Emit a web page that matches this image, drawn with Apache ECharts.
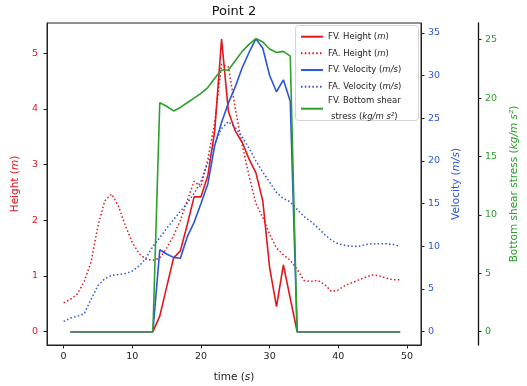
<!DOCTYPE html>
<html>
<head>
<meta charset="utf-8">
<title>Point 2</title>
<script src="https://cdn.jsdelivr.net/npm/echarts@6/dist/echarts.min.js"></script>
<style>
  html, body { margin: 0; padding: 0; background: #fff; }
  #chart { width: 527px; height: 386px; }
</style>
</head>
<body>
<div id="chart"></div>
<script>
// Time axis (s)
const timeS = [0,1,2,3,4,5,6,7,8,9,10,11,12,13,14,15,16,17,18,19,20,21,22,23,24,25,26,27,28,29,30,31,32,33,34,35,36,37,38,39,40,41,42,43,44,45,46,47,48,49];

// FV flow height (m); the FV run starts at t = 1 s
const fvHeight = [null,0,0,0,0,0,0,0,0,0,0,0,0,0,0.28,0.8,1.32,1.45,1.92,2.42,2.42,2.8,3.6,5.25,3.95,3.6,3.4,3.1,2.85,2.35,1.15,0.45,1.2,0.6,0,0,0,0,0,0,0,0,0,0,0,0,0,0,0,0];

// FA flow height (m)
const faHeight = [0.52,0.58,0.68,0.9,1.25,1.9,2.35,2.47,2.25,1.9,1.6,1.4,1.3,1.28,1.32,1.5,1.72,2.0,2.35,2.7,2.6,3.1,3.75,4.8,4.75,4.0,3.35,2.8,2.3,2.05,1.75,1.5,1.38,1.28,1.12,0.92,0.9,0.92,0.85,0.72,0.75,0.83,0.88,0.93,0.98,1.02,1.0,0.96,0.93,0.93];

// FV velocity (m/s)
const fvVelocity = [null,0,0,0,0,0,0,0,0,0,0,0,0,0,9.6,9.1,8.7,8.6,11.1,12.8,15.0,17.3,21.8,24.5,26.8,28.7,30.9,32.7,34.3,33.2,30.0,28.1,29.5,27.0,0,0,0,0,0,0,0,0,0,0,0,0,0,0,0,0];

// FA velocity (m/s)
const faVelocity = [1.2,1.6,1.8,2.1,3.8,5.4,6.2,6.6,6.7,6.8,7.1,7.7,8.6,10.0,11.0,12.1,13.1,14.1,15.05,16.2,17.6,19.8,22.0,23.8,24.6,23.9,22.8,21.5,20.0,18.7,17.5,16.3,15.6,15.2,14.3,13.5,12.9,12.2,11.4,10.7,10.3,10.1,10.0,10.0,10.2,10.3,10.3,10.3,10.2,10.0];

// FV bottom shear stress (kg/m s^2)
const fvShear = [null,0,0,0,0,0,0,0,0,0,0,0,0,0,19.6,19.3,18.9,19.2,19.6,20.0,20.4,20.9,21.7,22.4,22.4,23.2,24.0,24.6,25.1,24.8,24.2,23.9,24.0,23.6,0,0,0,0,0,0,0,0,0,0,0,0,0,0,0,0];

// Tick values
const timeTicks = [0,10,20,30,40,50];
const heightTicks = [0,1,2,3,4,5];
const velocityTicks = [0,5,10,15,20,25,30,35];
const shearTicks = [0,5,10,15,20,25];

const RED = '#e3161c';
const BLUE = '#2a56d8';
const GREEN = '#2ca02c';
const FONT = 'DejaVu Sans';

function pairs(values) {
  const out = [];
  timeS.forEach((t, i) => { if (values[i] !== null) out.push([t, values[i]]); });
  return out;
}

const names = {
  fvH: 'FV. Height',
  faH: 'FA. Height',
  fvV: 'FV. Velocity',
  faV: 'FA. Velocity',
  fvS: 'FV. Bottom shear stress'
};

const legendLabels = {};
legendLabels[names.fvH] = 'FV. Height ({i|m})';
legendLabels[names.faH] = 'FA. Height ({i|m})';
legendLabels[names.fvV] = 'FV. Velocity ({i|m/s})';
legendLabels[names.faV] = 'FA. Velocity ({i|m/s})';
legendLabels[names.fvS] = '{c|FV. Bottom shear}\n{c|stress (}{ci|kg/m s²}{c|)}';

const DOT = [1.5, 2.3];
const LEGEND_FONT = 8.5;

function valueAxis(opts) {
  return Object.assign({
    type: 'value',
    splitLine: { show: false },
    axisLine: { show: true, onZero: false, lineStyle: { color: '#222', width: 1 } },
    axisTick: { show: true, inside: false, length: 3.5, lineStyle: { color: '#222', width: 1 } },
    nameLocation: 'middle'
  }, opts);
}

const chart = echarts.init(document.getElementById('chart'), null, { renderer: 'canvas' });

chart.setOption({
  animation: false,
  backgroundColor: '#fff',
  textStyle: { fontFamily: FONT },
  title: {
    text: 'Point 2',
    left: 234,
    textAlign: 'center',
    top: 5,
    padding: 0,
    textStyle: { fontFamily: FONT, fontSize: 13, fontWeight: 'normal', color: '#111' }
  },
  grid: {
    left: 47, right: 106, top: 23, bottom: 41,
    outerBoundsMode: 'none',
    containLabel: false,
    show: true, borderColor: '#222', borderWidth: 1, backgroundColor: 'transparent'
  },
  graphic: [{
    type: 'rect',
    z: 3,
    shape: { x: 295.5, y: 25.5, width: 123, height: 95, r: 3 },
    style: { fill: 'rgba(255,255,255,0.85)', stroke: '#d4d4d4', lineWidth: 1 }
  }],
  legend: [{
    orient: 'vertical',
    left: 300, top: 31.7,
    padding: 0,
    itemGap: 6.67,
    itemWidth: 22, itemHeight: 10,
    selectedMode: false,
    itemStyle: { opacity: 0 },
    data: [names.fvH, names.faH, names.fvV, names.faV],
    formatter: n => legendLabels[n],
    textStyle: {
      fontFamily: FONT, fontSize: LEGEND_FONT, lineHeight: 10, color: '#222',
      rich: { i: { fontFamily: FONT, fontSize: LEGEND_FONT, lineHeight: 10, fontStyle: 'italic', color: '#222' } }
    }
  }, {
    orient: 'vertical',
    left: 300, top: 92.7,
    padding: 0,
    itemWidth: 22, itemHeight: 10,
    selectedMode: false,
    itemStyle: { opacity: 0 },
    data: [names.fvS],
    formatter: n => legendLabels[n],
    textStyle: {
      fontFamily: FONT, fontSize: LEGEND_FONT, lineHeight: 16, color: '#222',
      rich: {
        c: { fontFamily: FONT, fontSize: LEGEND_FONT, lineHeight: 16, color: '#222', align: 'center' },
        ci: { fontFamily: FONT, fontSize: LEGEND_FONT, lineHeight: 16, color: '#222', fontStyle: 'italic', align: 'center' }
      }
    }
  }],
  xAxis: valueAxis({
    min: -2.42, max: 52.04,
    name: 'time ({i|s})',
    nameGap: 27,
    nameTextStyle: {
      fontFamily: FONT, fontSize: 10.5, color: '#222',
      rich: { i: { fontFamily: FONT, fontSize: 10.5, fontStyle: 'italic', color: '#222' } }
    },
    axisTick: { show: true, inside: false, length: 3.5, customValues: timeTicks, lineStyle: { color: '#222', width: 1 } },
    axisLabel: { customValues: timeTicks, margin: 7, fontFamily: FONT, fontSize: 9.5, color: '#222' }
  }),
  yAxis: [
    valueAxis({
      position: 'left',
      min: -0.239, max: 5.54,
      name: 'Height ({i|m})',
      nameRotate: 90,
      nameGap: 22,
      nameTextStyle: {
        fontFamily: FONT, fontSize: 10.5, color: RED,
        rich: { i: { fontFamily: FONT, fontSize: 10.5, fontStyle: 'italic', color: RED } }
      },
      axisTick: { show: true, inside: false, length: 3.5, customValues: heightTicks, lineStyle: { color: '#222', width: 1 } },
      axisLabel: { customValues: heightTicks, margin: 9, fontFamily: FONT, fontSize: 9.5, color: RED }
    }),
    valueAxis({
      position: 'right',
      min: -1.56, max: 36.15,
      name: 'Velocity ({i|m/s})',
      nameRotate: 90,
      nameGap: 29,
      nameTextStyle: {
        fontFamily: FONT, fontSize: 10.5, color: BLUE,
        rich: { i: { fontFamily: FONT, fontSize: 10.5, fontStyle: 'italic', color: BLUE } }
      },
      axisTick: { show: true, inside: false, length: 3.5, customValues: velocityTicks, lineStyle: { color: '#222', width: 1 } },
      axisLabel: { customValues: velocityTicks, margin: 7, fontFamily: FONT, fontSize: 9.5, color: BLUE }
    }),
    valueAxis({
      position: 'right',
      offset: 57,
      min: -1.14, max: 26.43,
      name: 'Bottom shear stress ({i|kg/m s²})',
      nameRotate: 90,
      nameGap: 31,
      nameTextStyle: {
        fontFamily: FONT, fontSize: 10.5, color: GREEN,
        rich: { i: { fontFamily: FONT, fontSize: 10.5, fontStyle: 'italic', color: GREEN } }
      },
      axisLine: { show: true, onZero: false, lineStyle: { color: '#111', width: 1.3 } },
      axisTick: { show: true, inside: false, length: 3.5, customValues: shearTicks, lineStyle: { color: '#222', width: 1 } },
      axisLabel: { customValues: shearTicks, margin: 7, fontFamily: FONT, fontSize: 9.5, color: GREEN }
    })
  ],
  series: [
    {
      name: names.fvH, type: 'line', yAxisIndex: 0, symbol: 'none',
      data: pairs(fvHeight), color: RED,
      lineStyle: { color: RED, width: 1.6 }
    },
    {
      name: names.faH, type: 'line', yAxisIndex: 0, symbol: 'none',
      data: pairs(faHeight), color: RED,
      lineStyle: { color: RED, width: 1.5, type: DOT }
    },
    {
      name: names.fvV, type: 'line', yAxisIndex: 1, symbol: 'none',
      data: pairs(fvVelocity), color: BLUE,
      lineStyle: { color: BLUE, width: 1.6 }
    },
    {
      name: names.faV, type: 'line', yAxisIndex: 1, symbol: 'none',
      data: pairs(faVelocity), color: BLUE,
      lineStyle: { color: BLUE, width: 1.5, type: DOT }
    },
    {
      name: names.fvS, type: 'line', yAxisIndex: 2, symbol: 'none',
      data: pairs(fvShear), color: GREEN,
      lineStyle: { color: GREEN, width: 1.6 }
    }
  ]
});
</script>
</body>
</html>
